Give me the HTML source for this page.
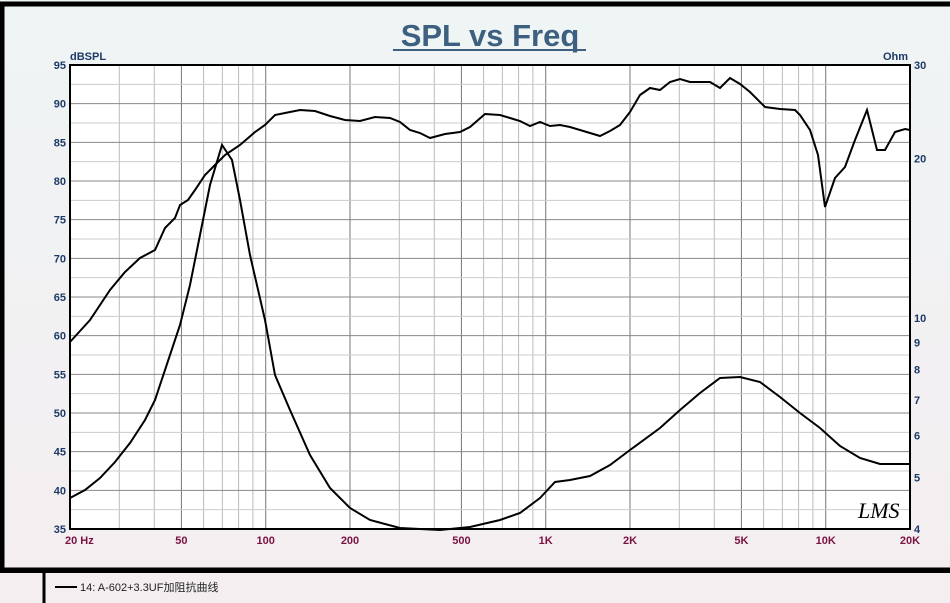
<!DOCTYPE html>
<html><head><meta charset="utf-8"><style>
html,body{margin:0;padding:0;width:950px;height:603px;overflow:hidden;background:#fff}
svg{display:block}
</style></head><body>
<svg id="s" width="950" height="603" xmlns="http://www.w3.org/2000/svg" font-family="Liberation Sans, sans-serif">
<defs><linearGradient id="bg" x1="0" y1="0" x2="0" y2="1"><stop offset="0" stop-color="#eff4f5"/><stop offset="1" stop-color="#f4eef0"/></linearGradient></defs>
<rect x="0" y="0" width="950" height="603" fill="url(#bg)"/>
<rect x="2" y="4" width="960" height="566" fill="none" stroke="#000" stroke-width="5"/>
<line x1="0" y1="571" x2="950" y2="571" stroke="#000" stroke-width="4"/>
<line x1="44" y1="571" x2="44" y2="603" stroke="#000" stroke-width="3"/>
<rect x="70" y="65" width="840" height="464" fill="#fff"/>
<g id="grid"></g>
<rect x="70" y="65" width="840" height="464" fill="none" stroke="#000" stroke-width="2"/>
<text x="490" y="46" text-anchor="middle" font-size="31" font-weight="bold" fill="#3d5f80">SPL vs Freq</text>
<line x1="393" y1="50" x2="586" y2="50" stroke="#3d5f80" stroke-width="2"/>
<text x="70" y="60" font-size="11" font-weight="bold" fill="#1d3a66">dBSPL</text>
<text x="908" y="60" text-anchor="end" font-size="11" font-weight="bold" fill="#1d3a66">Ohm</text>
<g id="lab" font-size="11" font-weight="bold"></g>
<text x="858" y="518" font-size="22" font-style="italic" font-family="Liberation Serif, serif" fill="#000">LMS</text>
<line x1="55" y1="587" x2="77" y2="587" stroke="#000" stroke-width="2"/>
<text x="80" y="591" font-size="11" fill="#222" font-family="Liberation Sans, Noto Sans CJK SC, sans-serif">14: A-602+3.3UF加阻抗曲线</text>
<polyline fill="none" stroke="#000" stroke-width="2" points="70,342 90,320 110,290 125,272 140,258 155,250 165,228 175,218 180,205 188,200 195,190 205,175 215,165 225,155 240,145 255,132 265,125 275,115 285,113 300,110 315,111 330,116 345,120 360,121 375,117 390,118 400,122 410,130 420,133 430,138 445,134 460,132 470,127 485,114 500,115 510,118 520,121 530,126 540,122 550,126 560,125 570,127 580,130 590,133 600,136 610,131 620,125 630,112 640,95 650,88 660,90 670,82 680,79 690,82 710,82 720,88 730,78 740,84 750,92 765,107 780,109 795,110 800,115 810,130 818,155 825,207 835,178 845,167 855,140 867,110 877,150 885,150 895,132 905,129 910,130"/>
<polyline fill="none" stroke="#000" stroke-width="2" points="70,498 85,490 100,478 115,462 130,443 145,420 155,400 165,370 180,325 190,285 200,235 210,185 222,145 232,160 240,200 250,255 265,320 275,375 290,410 310,455 330,488 350,508 370,520 400,528 440,530 470,527 500,520 520,513 540,498 555,482 570,480 590,476 610,465 630,450 660,428 680,410 700,393 720,378 740,377 760,382 780,397 800,413 820,428 840,446 860,458 880,464 910,464"/>
</svg>
<script>
var ns="http://www.w3.org/2000/svg",g=document.getElementById('grid'),lab=document.getElementById('lab');
function el(p,t,a,txt){var e=document.createElementNS(ns,t);for(var k in a)e.setAttribute(k,a[k]);if(txt!=null)e.textContent=txt;p.appendChild(e);}
function fx(f){return 70+280*Math.log10(f/20);}
var fs=[];[10,100,1000,10000].forEach(function(d){for(var i=1;i<10;i++){var f=i*d;if(f>20&&f<20000)fs.push(f);}});
fs.forEach(function(f){var m=String(f)[0];var major=(m=='1'||m=='2'||m=='5');el(g,'line',{x1:fx(f),x2:fx(f),y1:65,y2:529,stroke:major?'#777':'#bbb','stroke-width':1});});
for(var d=35;d<=95;d+=5){var y=65+(95-d)*464/60;el(g,'line',{x1:70,x2:910,y1:y,y2:y,stroke:'#888','stroke-width':1});el(lab,'text',{x:66,y:y+4,'text-anchor':'end',fill:'#1d3a66'},d);}
for(var d=37.5;d<95;d+=5){var y=65+(95-d)*464/60;el(g,'line',{x1:70,x2:910,y1:y,y2:y,stroke:'#ccc','stroke-width':1});}
[[20,'20  Hz'],[50,'50'],[100,'100'],[200,'200'],[500,'500'],[1000,'1K'],[2000,'2K'],[5000,'5K'],[10000,'10K'],[20000,'20K']].forEach(function(a){var x=fx(a[0]);el(lab,'text',{x:a[0]==20?x-5:x,y:544,'text-anchor':a[0]==20?'start':'middle',fill:'#7a1242'},a[1]);});
[30,20,10,9,8,7,6,5,4].forEach(function(z){var y=529-464*Math.log(z/4)/Math.log(7.5);el(lab,'text',{x:914,y:y+4,fill:'#1d3a66'},z);});
</script>
</body></html>
